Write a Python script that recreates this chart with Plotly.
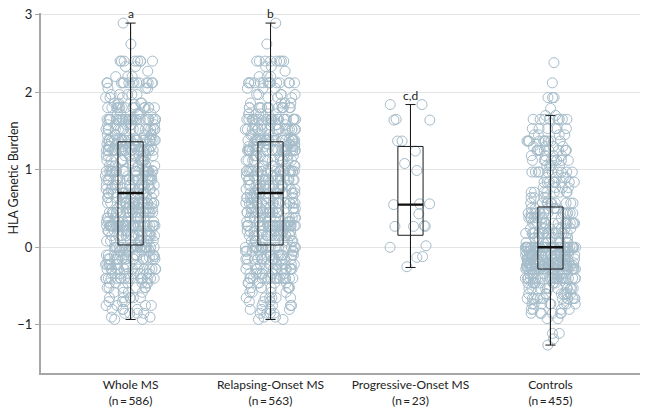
import plotly.graph_objects as go

# ---- data ----
categories = ["Whole MS", "Relapsing-Onset MS", "Progressive-Onset MS", "Controls"]
n_labels = ["(n\u2009=\u2009586)", "(n\u2009=\u2009563)", "(n\u2009=\u200923)", "(n\u2009=\u2009455)"]
letters = ["a", "b", "c,d", ""]
y_title = "HLA Genetic Burden"

# box statistics
q1 = [0.03, 0.03, 0.155, -0.28]
median = [0.70, 0.70, 0.55, 0.00]
q3 = [1.36, 1.36, 1.30, 0.52]
lowerfence = [-0.93, -0.93, -0.26, -1.26]
upperfence = [2.89, 2.89, 1.84, 1.70]

# Relapsing-onset MS: discrete burden levels and how many subjects sit on each
relapsing_levels = [2.89, 2.62, 2.40, 2.33, 2.27, 2.20, 2.12, 2.05, 1.97, 1.93, 1.86, 1.80, 1.72, 1.65,
                    1.58, 1.52, 1.45, 1.38, 1.33, 1.30, 1.25, 1.18, 1.12, 1.05, 0.98, 0.92, 0.87,
                    0.80, 0.75, 0.70, 0.64, 0.57, 0.50, 0.45, 0.38, 0.33, 0.28, 0.21, 0.15, 0.08,
                    0.00, -0.05, -0.10, -0.15, -0.22, -0.28, -0.34, -0.40, -0.46, -0.52, -0.58,
                    -0.65, -0.70, -0.75, -0.80, -0.85, -0.90, -0.93]
relapsing_counts = [1, 1, 8, 2, 1, 3, 14, 3, 5, 3, 4, 14, 6, 25,
                    6, 18, 6, 23, 6, 8, 24, 8, 12, 7, 21, 8, 16,
                    12, 8, 14, 10, 19, 10, 19, 10, 8, 28, 10, 16, 10,
                    18, 6, 10, 14, 10, 13, 8, 16, 6, 6, 4,
                    6, 3, 4, 4, 4, 2, 2]

# Progressive-onset MS: individual subjects
progressive_values = [1.84, 1.84, 1.65, 1.64, 1.64, 1.37, 1.37, 1.24, 1.08, 0.99, 0.56, 0.56,
                      0.55, 0.43, 0.27, 0.28, 0.27, 0.27, 0.00, 0.02, -0.13, -0.12, -0.25]

# Controls: discrete burden levels and counts
control_levels = [2.38, 2.12, 1.93, 1.79, 1.70, 1.65, 1.53, 1.45, 1.37, 1.30, 1.25, 1.18, 1.12,
                  1.05, 0.97, 0.90, 0.84, 0.77, 0.71, 0.64, 0.57, 0.50, 0.44, 0.38, 0.31, 0.24,
                  0.18, 0.12, 0.06, 0.00, -0.05, -0.10, -0.15, -0.20, -0.24, -0.28, -0.34, -0.40,
                  -0.46, -0.53, -0.60, -0.66, -0.73, -0.80, -0.85, -0.92, -1.11, -1.18, -1.26]
control_counts = [1, 1, 3, 1, 2, 8, 6, 4, 10, 4, 10, 4, 8,
                  4, 10, 4, 8, 4, 8, 4, 10, 6, 14, 8, 16, 8,
                  16, 8, 8, 40, 12, 20, 16, 20, 25, 24, 10, 24,
                  10, 12, 8, 12, 8, 4, 6, 2, 2, 1, 1]


def expand(levels, counts):
    out = []
    for v, c in zip(levels, counts):
        out.extend([v] * c)
    return out


relapsing_values = expand(relapsing_levels, relapsing_counts)
whole_values = relapsing_values + progressive_values
control_values = expand(control_levels, control_counts)
group_values = [whole_values, relapsing_values, progressive_values, control_values]

# ---- figure ----
PT_COLOR = "#a5bcca"
AX_COLOR = "#a6a6a6"
FONT = "Lato"

fig = go.Figure()

px, py = [], []
for cat, vals in zip(categories, group_values):
    px.extend([cat] * len(vals))
    py.extend(vals)

fig.add_trace(go.Box(
    x=px, y=py, boxpoints="all", jitter=1, pointpos=0, width=0.36,
    fillcolor="rgba(0,0,0,0)", line=dict(color="rgba(0,0,0,0)", width=0),
    marker=dict(symbol="circle-open", size=10, color=PT_COLOR,
                line=dict(width=1, color=PT_COLOR)),
    hoverinfo="skip", showlegend=False,
))

# whisker line running through the box (box collapsed on the median)
fig.add_trace(go.Box(
    x=categories, q1=median, median=median, q3=median,
    lowerfence=lowerfence, upperfence=upperfence, width=0.0001, whiskerwidth=0,
    fillcolor="rgba(0,0,0,0)", line=dict(color="#1a1a1a", width=1),
    boxpoints=False, showlegend=False, hoverinfo="skip",
))

# box with caps
fig.add_trace(go.Box(
    x=categories, q1=q1, median=median, q3=q3,
    lowerfence=lowerfence, upperfence=upperfence, width=0.18, whiskerwidth=0.4,
    fillcolor="rgba(0,0,0,0)", line=dict(color="#1a1a1a", width=1),
    boxpoints=False, showlegend=False, hoverinfo="skip",
))

# thick median bar
fig.add_trace(go.Box(
    x=categories, q1=median, median=median, q3=median,
    lowerfence=median, upperfence=median, width=0.18, whiskerwidth=0,
    fillcolor="rgba(0,0,0,0)", line=dict(color="#111111", width=2.4),
    boxpoints=False, showlegend=False, hoverinfo="skip",
))

for cat, txt, top in zip(categories, letters, upperfence):
    if txt:
        fig.add_annotation(x=cat, y=top, text=txt, showarrow=False,
                           yanchor="bottom", yshift=0,
                           font=dict(size=12, color="#222", family=FONT))

# y-axis title as rotated annotation
fig.add_annotation(xref="paper", yref="paper", x=0, y=0.54, xshift=-27,
                   text=y_title, textangle=-90, showarrow=False,
                   xanchor="center", yanchor="middle",
                   font=dict(size=12.5, color="#222", family=FONT))

fig.update_layout(
    width=648, height=414,
    margin=dict(l=41, r=8, t=13, b=41),
    paper_bgcolor="white", plot_bgcolor="white",
    boxmode="overlay",
    font=dict(family=FONT, size=12, color="#222"),
)
fig.update_xaxes(
    type="category", categoryorder="array", categoryarray=categories,
    tickvals=categories,
    ticktext=[f"{c}<br>{n}" for c, n in zip(categories, n_labels)],
    range=[-0.64, 3.64], showgrid=False, zeroline=False, automargin=False,
    showline=True, linecolor=AX_COLOR, linewidth=2, ticks="",
    tickfont=dict(size=12, color="#222"),
)
fig.update_yaxes(
    range=[-1.62, 3.02], tickvals=[-1, 0, 1, 2, 3], automargin=False,
    showgrid=True, gridcolor="#e4e4e4", gridwidth=1, zeroline=False,
    showline=True, linecolor=AX_COLOR, linewidth=2,
    ticks="outside", ticklen=4, tickcolor=AX_COLOR, tickwidth=1,
    tickfont=dict(size=13, color="#222"),
)

# remove the default page margin so the figure sits at the window's corner
fig.write_html("out.html", config={"displayModeBar": False},
               post_script="document.body.style.margin='0';")
